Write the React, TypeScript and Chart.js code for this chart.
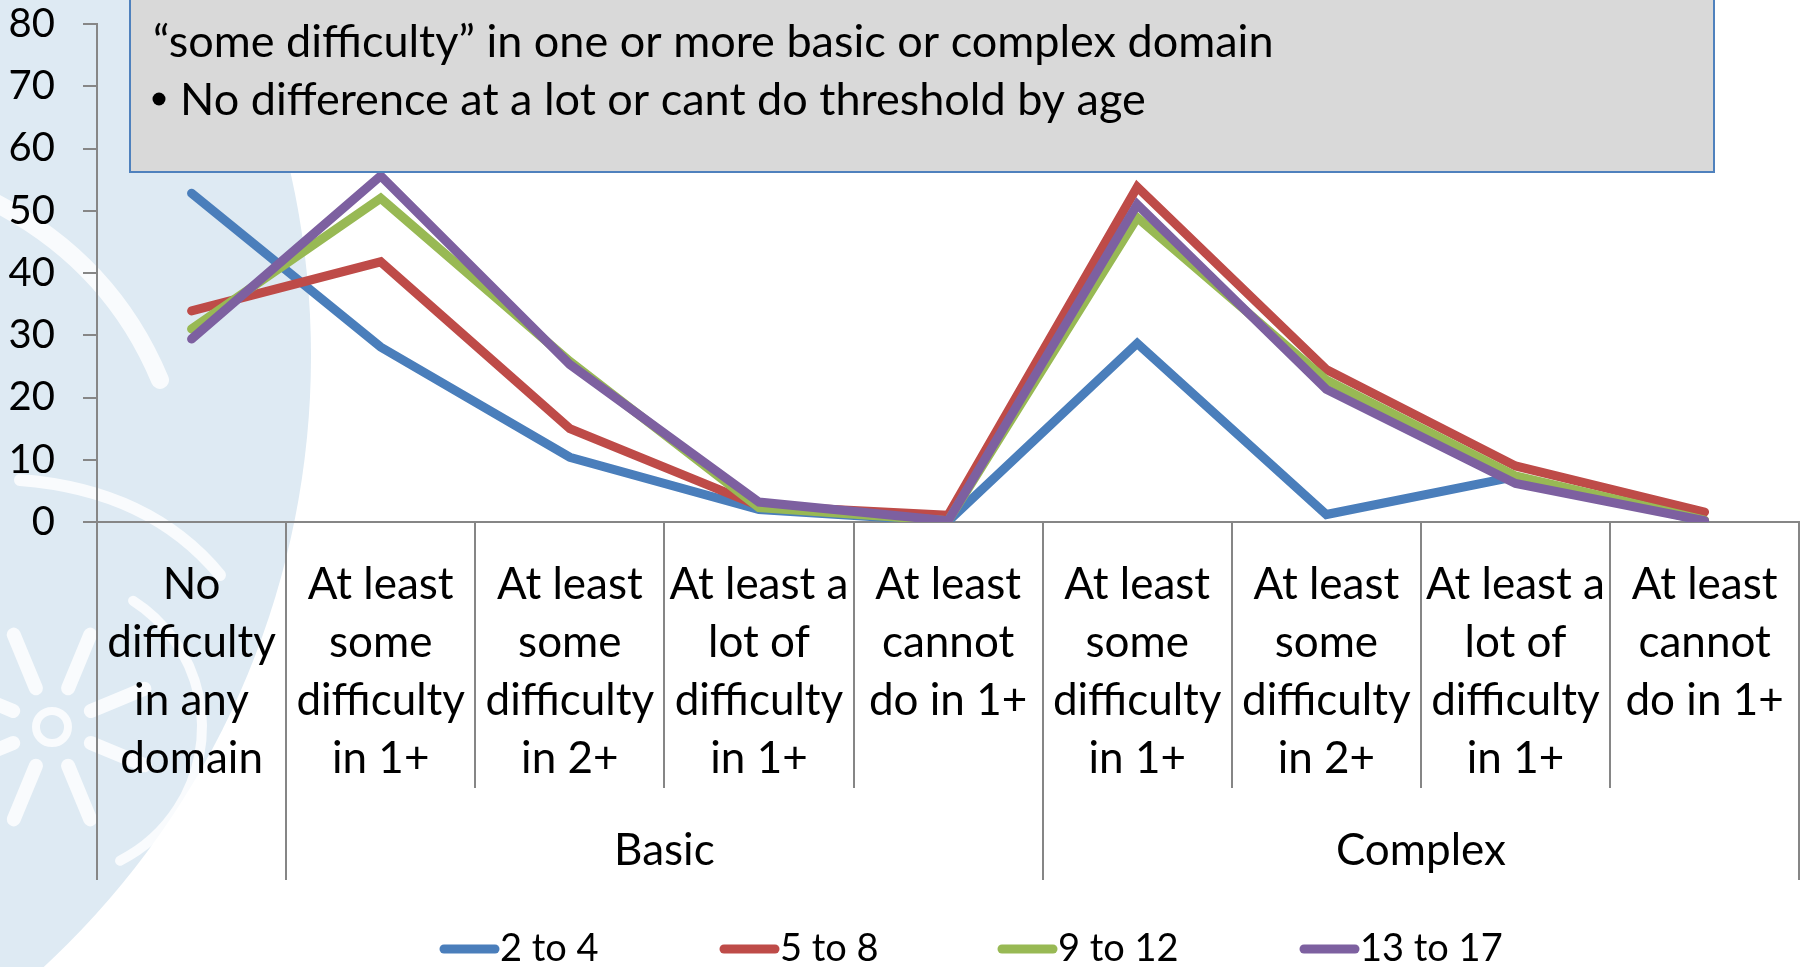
import React, { useEffect, useRef } from "react";
import { Chart, registerables } from "chart.js";

Chart.register(...registerables);

// Category labels (multi-line), grouped under "Basic" and "Complex"
const categories: string[][] = [
  ["No", "difficulty", "in any", "domain"],
  ["At least", "some", "difficulty", "in 1+"],
  ["At least", "some", "difficulty", "in 2+"],
  ["At least a", "lot of", "difficulty", "in 1+"],
  ["At least", "cannot", "do in 1+"],
  ["At least", "some", "difficulty", "in 1+"],
  ["At least", "some", "difficulty", "in 2+"],
  ["At least a", "lot of", "difficulty", "in 1+"],
  ["At least", "cannot", "do in 1+"],
];

const groupLabels = ["Basic", "Complex"];
const groupStarts = [1, 5];
const groupEnds = [4, 8];

const seriesNames = ["2 to 4", "5 to 8", "9 to 12", "13 to 17"];
const seriesColors = ["#4A7EBB", "#BE4B48", "#98B954", "#7D60A0"];

const age2to4 = [52.8, 28.1, 10.4, 2.0, 0.1, 28.7, 1.2, 7.3, 0.1];
const age5to8 = [33.9, 41.8, 15.0, 2.6, 1.1, 53.8, 24.5, 9.0, 1.6];
const age9to12 = [31.0, 52.0, 25.8, 2.3, 0.2, 48.9, 22.8, 7.4, 0.3];
const age13to17 = [29.4, 55.6, 25.3, 3.2, 0.2, 51.0, 21.3, 6.2, 0.2];

const yMin = 0;
const yMax = 80;
const yStep = 10;

const noteContinuation = "\u201Csome difficulty\u201D in one or more basic or complex domain";
const noteBullet = "No difference at a lot or cant do threshold by age";

const FONT = "Lato, Carlito, Calibri, sans-serif";
const AXIS_GREY = "#868686";
const LEGEND_STARTS = [440, 720, 998, 1300];

function drawEmblem(ctx: CanvasRenderingContext2D) {
  ctx.save();
  ctx.fillStyle = "#DEEAF3";
  ctx.beginPath();
  ctx.arc(-521, 356, 832, 0, Math.PI * 2);
  ctx.fill();

  ctx.strokeStyle = "rgba(255,255,255,0.8)";
  ctx.lineCap = "round";

  // inner sweeping bands
  ctx.lineWidth = 18;
  ctx.beginPath();
  ctx.moveTo(-10, 200);
  ctx.quadraticCurveTo(110, 260, 160, 380);
  ctx.stroke();
  ctx.lineWidth = 12;
  ctx.beginPath();
  ctx.moveTo(20, 480);
  ctx.quadraticCurveTo(150, 490, 220, 575);
  ctx.stroke();

  // wheel
  const wx = 52;
  const wy = 727;
  ctx.lineWidth = 10;
  ctx.beginPath();
  ctx.arc(wx, wy, 150, -1.0, 1.1);
  ctx.stroke();
  ctx.lineWidth = 8;
  ctx.beginPath();
  ctx.arc(wx, wy, 16, 0, Math.PI * 2);
  ctx.stroke();
  ctx.lineWidth = 14;
  for (let k = 0; k < 8; k++) {
    const a = (k * Math.PI) / 4 + Math.PI / 8;
    ctx.beginPath();
    ctx.moveTo(wx + Math.cos(a) * 42, wy + Math.sin(a) * 42);
    ctx.lineTo(wx + Math.cos(a) * 100, wy + Math.sin(a) * 100);
    ctx.stroke();
  }
  ctx.restore();
}

const decorPlugin = {
  id: "decor",
  beforeDraw(chart: Chart) {
    const ctx = chart.ctx;
    ctx.save();
    ctx.fillStyle = "#FFFFFF";
    ctx.fillRect(0, 0, chart.width, chart.height);
    ctx.restore();
    drawEmblem(ctx);
  },
  afterDraw(chart: Chart) {
    const ctx = chart.ctx;
    const xs = chart.scales.x;
    const area = chart.chartArea;
    const n = categories.length;
    const step = xs.getPixelForValue(1) - xs.getPixelForValue(0);
    const edge = (i: number) => xs.getPixelForValue(0) - step / 2 + i * step;
    const base = area.bottom;
    const innerBottom = base + 266;
    const outerBottom = base + 358;

    ctx.save();
    ctx.strokeStyle = AXIS_GREY;
    ctx.lineWidth = 2;
    const outerEdges = new Set<number>([0, 1, ...groupEnds.map((e) => e + 1)]);
    for (let i = 0; i <= n; i++) {
      const x = Math.round(edge(i));
      ctx.beginPath();
      ctx.moveTo(x, base);
      ctx.lineTo(x, outerEdges.has(i) ? outerBottom : innerBottom);
      ctx.stroke();
    }

    // group labels
    ctx.fillStyle = "#000";
    ctx.font = `44px ${FONT}`;
    ctx.textAlign = "center";
    ctx.textBaseline = "middle";
    groupLabels.forEach((g, k) => {
      const cx = (edge(groupStarts[k]) + edge(groupEnds[k] + 1)) / 2;
      ctx.fillText(g, cx, 851);
    });

    // note box
    ctx.fillStyle = "#D9D9D9";
    ctx.fillRect(130, -10, 1584, 182);
    ctx.strokeStyle = "#4F81BD";
    ctx.lineWidth = 2;
    ctx.strokeRect(130, -10, 1584, 182);
    ctx.fillStyle = "#000";
    ctx.font = `45px ${FONT}`;
    ctx.textAlign = "left";
    ctx.textBaseline = "alphabetic";
    ctx.fillText(noteContinuation, 153, 57);
    ctx.beginPath();
    ctx.arc(159, 99, 6.5, 0, Math.PI * 2);
    ctx.fill();
    ctx.fillText(noteBullet, 180, 115);

    // legend
    ctx.font = `38px ${FONT}`;
    ctx.textBaseline = "middle";
    const ly = 949;
    seriesNames.forEach((name, k) => {
      const lx = LEGEND_STARTS[k];
      ctx.strokeStyle = seriesColors[k];
      ctx.lineWidth = 9;
      ctx.lineCap = "round";
      ctx.beginPath();
      ctx.moveTo(lx + 4, ly);
      ctx.lineTo(lx + 55, ly);
      ctx.stroke();
      ctx.fillStyle = "#000";
      ctx.fillText(name, lx + 60, ly);
    });
    ctx.restore();
  },
};

export default function App() {
  const canvasRef = useRef<HTMLCanvasElement | null>(null);

  useEffect(() => {
    document.body.style.margin = "0";
    const canvas = canvasRef.current;
    if (!canvas) return;
    const series = [age2to4, age5to8, age9to12, age13to17];
    const chart = new Chart(canvas, {
      type: "line",
      data: {
        labels: categories,
        datasets: series.map((vals, k) => ({
          label: seriesNames[k],
          data: vals,
          borderColor: seriesColors[k],
          backgroundColor: seriesColors[k],
          borderWidth: 9,
          borderCapStyle: "round" as const,
          borderJoinStyle: "miter" as const,
          pointRadius: 0,
          tension: 0,
          fill: false,
          order: series.length - k,
        })),
      },
      options: {
        animation: false,
        responsive: true,
        maintainAspectRatio: false,
        layout: { padding: { top: 0, right: 1, left: 0, bottom: 0 } },
        plugins: {
          legend: { display: false },
          tooltip: { enabled: false },
        },
        scales: {
          x: {
            type: "category",
            offset: true,
            grid: { display: false },
            border: { display: true, color: AXIS_GREY, width: 2 },
            ticks: {
              color: "#000",
              autoSkip: false,
              maxRotation: 0,
              minRotation: 0,
              padding: 26,
              font: { family: FONT, size: 44, lineHeight: 1.32 },
            },
            afterFit: (s: any) => {
              s.height = 445;
            },
          },
          y: {
            min: yMin,
            max: yMax,
            grid: {
              drawOnChartArea: false,
              drawTicks: true,
              tickLength: 14,
              color: AXIS_GREY,
              lineWidth: 2,
            },
            border: { display: true, color: AXIS_GREY, width: 2 },
            ticks: {
              stepSize: yStep,
              color: "#000",
              padding: 28,
              font: { family: FONT, size: 40 },
            },
            afterFit: (s: any) => {
              s.width = 97;
              s.paddingTop = 24;
              s.paddingBottom = 0;
            },
          },
        },
      },
      plugins: [decorPlugin],
    });
    if ((document as any).fonts && (document as any).fonts.load) {
      Promise.all([
        (document as any).fonts.load(`44px Lato`),
        (document as any).fonts.load(`40px Lato`),
      ])
        .then(() => chart.update())
        .catch(() => {});
    }
    return () => chart.destroy();
  }, []);

  return (
    <div style={{ position: "relative", width: "1810px", height: "967px" }}>
      <canvas ref={canvasRef} />
    </div>
  );
}
